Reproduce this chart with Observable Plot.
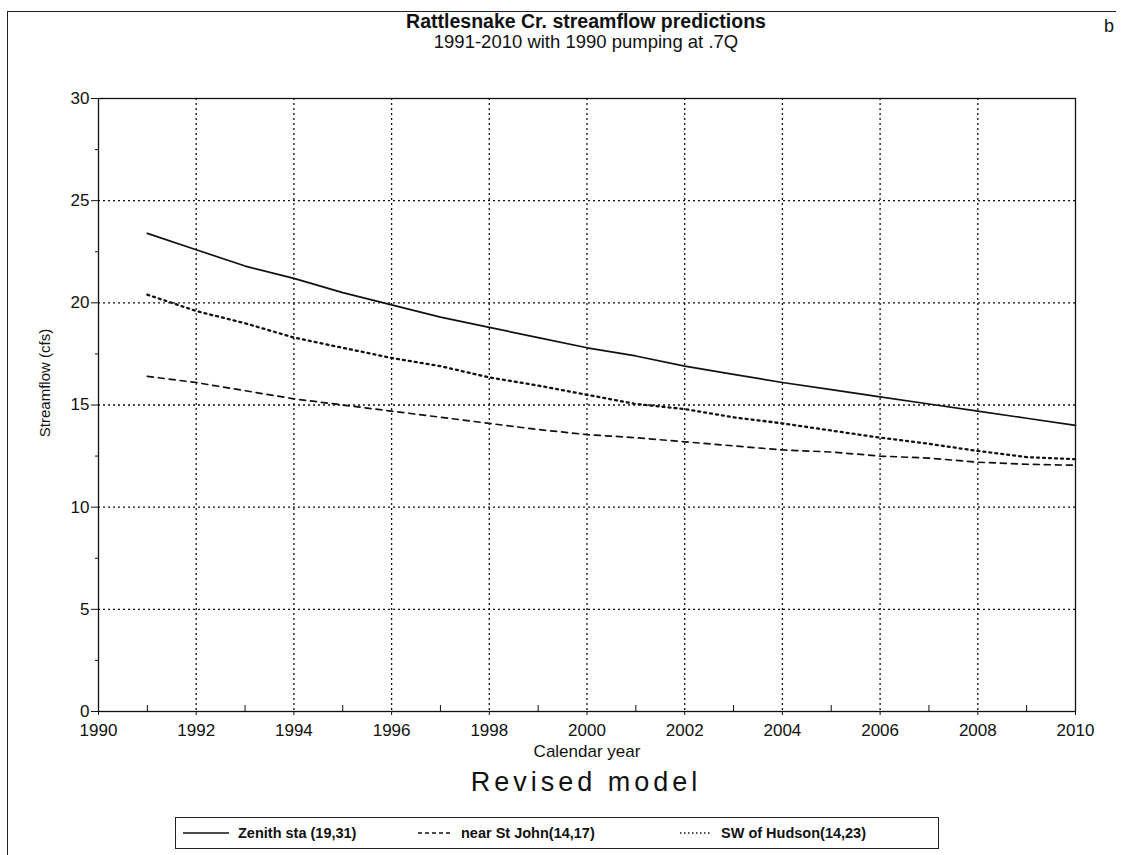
<!DOCTYPE html>
<html>
<head>
<meta charset="utf-8">
<script src="https://cdn.jsdelivr.net/npm/d3@7"></script>
<script src="https://cdn.jsdelivr.net/npm/@observablehq/plot@0.6"></script>
<style>
  html, body { margin: 0; padding: 0; background: #fff; }
  body { width: 1122px; height: 855px; position: relative; overflow: hidden; font-family: "Liberation Sans", Arial, sans-serif; color: #111; }
  .frame { position: absolute; left: 7px; top: 11px; width: 1108px; height: 850px; border-top: 1.5px solid #222; border-left: 1.5px solid #222; }
  .corner { position: absolute; left: 1104px; top: 16px; font-size: 18px; }
  .title { position: absolute; left: 586px; transform: translateX(-50%); white-space: nowrap; text-align: center; }
  #t1 { top: 10px; font-size: 19.5px; font-weight: bold; }
  #t2 { top: 31px; font-size: 18.5px; }
  #chart { position: absolute; left: 0; top: 50px; }
  #caption { top: 767px; font-size: 27px; letter-spacing: 4px; }
  #legend { position: absolute; left: 175px; top: 817px; width: 764px; height: 32px; border: 1px solid #222; box-sizing: border-box; font-size: 14.5px; font-weight: bold; }
  .item { position: absolute; top: 0; height: 30px; display: flex; align-items: center; white-space: nowrap; }
  .item svg { margin-right: 9px; }
</style>
</head>
<body>
<div class="frame"></div>
<div class="corner">b</div>
<div class="title" id="t1">Rattlesnake Cr. streamflow predictions</div>
<div class="title" id="t2">1991-2010 with 1990 pumping at .7Q</div>
<div id="chart"></div>
<div class="title" id="caption">Revised model</div>
<div id="legend"></div>
<script>
// ---- data ----
const years = [1991,1992,1993,1994,1995,1996,1997,1998,1999,2000,2001,2002,2003,2004,2005,2006,2007,2008,2009,2010];
const zenith   = [23.4,22.6,21.8,21.2,20.5,19.9,19.3,18.8,18.3,17.8,17.4,16.9,16.5,16.1,15.75,15.4,15.05,14.7,14.35,14.0];
const stJohn   = [16.4,16.1,15.7,15.3,15.0,14.7,14.4,14.1,13.8,13.55,13.4,13.2,13.0,12.8,12.7,12.5,12.4,12.2,12.1,12.05];
const swHudson = [20.4,19.6,19.0,18.3,17.8,17.3,16.9,16.35,15.95,15.5,15.05,14.8,14.4,14.1,13.75,13.4,13.1,12.75,12.45,12.35];
const seriesNames = ["Zenith sta (19,31)", "near St John(14,17)", "SW of Hudson(14,23)"];
const xTicksMajor = [1990,1992,1994,1996,1998,2000,2002,2004,2006,2008,2010];
const xTicksMinor = [1991,1993,1995,1997,1999,2001,2003,2005,2007,2009];
const yTicksMajor = [0,5,10,15,20,25,30];
const yTicksMinor = [2.5,7.5,12.5,17.5,22.5,27.5];
const xGrid = [1992,1994,1996,1998,2000,2002,2004,2006,2008];
const yGrid = [5,10,15,20,25];
const yLabel = "Streamflow (cfs)";
const xLabel = "Calendar year";

// styles per series
const styles = {
  [seriesNames[0]]: {dash: null, width: 1.7, legendDash: null},
  [seriesNames[1]]: {dash: "6,5", width: 1.7, legendDash: "4,3"},
  [seriesNames[2]]: {dash: "2,4", width: 2.3, legendDash: "1.5,2.5"}
};

const table = [];
[zenith, stJohn, swHudson].forEach((vals, i) => {
  vals.forEach((v, j) => table.push({series: seriesNames[i], year: years[j], value: v}));
});

const font = "Liberation Sans, Arial, sans-serif";
const chart = Plot.plot({
  width: 1122,
  height: 750,
  marginLeft: 98,
  marginRight: 47,
  marginTop: 48,
  marginBottom: 89,
  style: {fontFamily: font, fontSize: "17px", color: "#111", background: "transparent"},
  x: {domain: [1990, 2010], label: null},
  y: {domain: [0, 30], label: null},
  marks: [
    Plot.gridX(xGrid, {stroke: "#111", strokeOpacity: 1, strokeWidth: 1.3, strokeDasharray: "2,3"}),
    Plot.gridY(yGrid, {stroke: "#111", strokeOpacity: 1, strokeWidth: 1.3, strokeDasharray: "2,3"}),
    Plot.frame({stroke: "#111", strokeWidth: 1.3}),
    Plot.axisX(xTicksMajor, {tickSize: 4, tickPadding: 8, tickFormat: d => String(d), fontSize: 17, stroke: "#111"}),
    Plot.axisX(xTicksMinor, {tickSize: -6, text: null, stroke: "#111"}),
    Plot.axisY(yTicksMajor, {tickSize: 7, tickPadding: 2, fontSize: 17, stroke: "#111"}),
    Plot.axisY(yTicksMinor, {tickSize: 3, text: null, stroke: "#111"}),
    ...seriesNames.map(name => Plot.line(table.filter(d => d.series === name), {
      x: "year", y: "value", stroke: "#111",
      strokeWidth: styles[name].width,
      strokeDasharray: styles[name].dash
    })),
    Plot.text([yLabel], {frameAnchor: "left", textAnchor: "middle", rotate: -90, dx: -53, dy: -22, fontSize: 15, fill: "#111"}),
    Plot.text([xLabel], {frameAnchor: "bottom", textAnchor: "middle", dy: 45, fontSize: 17, fill: "#111"})
  ]
});
document.getElementById("chart").appendChild(chart);

// legend
const legend = document.getElementById("legend");
const positions = [{x: 7, w: 46}, {x: 242, w: 34}, {x: 504, w: 32}];
seriesNames.forEach((name, i) => {
  const item = document.createElement("div");
  item.className = "item";
  item.style.left = positions[i].x + "px";
  const w = positions[i].w;
  const st = styles[name];
  item.innerHTML = `<svg width="${w}" height="10"><line x1="0" x2="${w}" y1="5" y2="5" stroke="#111" stroke-width="1.4" ${st.legendDash ? `stroke-dasharray="${st.legendDash}"` : ""}/></svg><span>${name}</span>`;
  legend.appendChild(item);
});
</script>
</body>
</html>
